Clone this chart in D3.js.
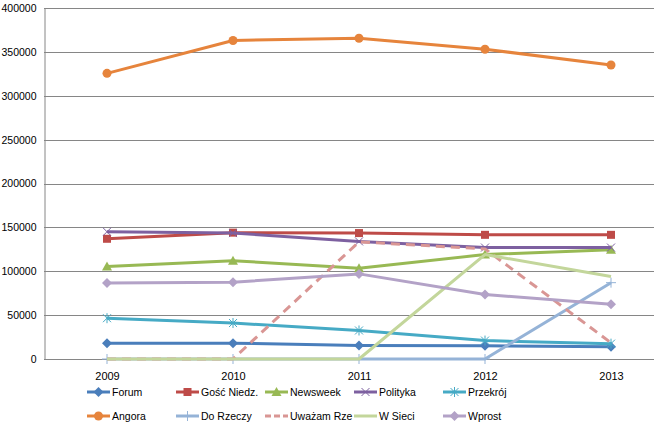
<!DOCTYPE html>
<html>
<head>
<meta charset="utf-8">
<script src="https://cdn.jsdelivr.net/npm/d3@7"></script>
<style>
  body { margin: 0; background: #fff; }
  svg { display: block; font-family: "Liberation Sans", Arial, sans-serif; }
</style>
</head>
<body>
<script>
  // chart data
  var years = ['2009', '2010', '2011', '2012', '2013'];
  var yTicks = [0, 50000, 100000, 150000, 200000, 250000, 300000, 350000, 400000];

  var forum     = [18000, 18000, 15500, 15000, 14000];
  var goscNiedz = [137000, 144000, 143500, 141500, 141500];
  var newsweek  = [105500, 112000, 103500, 119000, 124500];
  var polityka  = [145000, 143500, 134000, 127000, 127000];
  var przekroj  = [46500, 41000, 32500, 21000, 17500];
  var angora    = [325500, 363000, 365500, 353000, 335000];
  var doRzeczy  = [0, 0, 0, 0, 87000];
  var uwazamRze = [0, 0, 133500, 125500, 18500];
  var wSieci    = [0, 0, 0, 119000, 94000];
  var wprost    = [86500, 87500, 97000, 73500, 62500];

  var series = [
    { name: 'Forum', values: forum, color: '#4A7EBB', marker: 'diamond' },
    { name: 'Gość Niedz.', values: goscNiedz, color: '#BE4B48', marker: 'square' },
    { name: 'Newsweek', values: newsweek, color: '#98B954', marker: 'triangle' },
    { name: 'Polityka', values: polityka, color: '#7D60A0', marker: 'x' },
    { name: 'Przekrój', values: przekroj, color: '#46AAC5', marker: 'star' },
    { name: 'Angora', values: angora, color: '#E6843C', marker: 'circle' },
    { name: 'Do Rzeczy', values: doRzeczy, color: '#95B3D7', marker: 'plus' },
    { name: 'Uważam Rze', values: uwazamRze, color: '#D99694', marker: 'none', dash: '9,6' },
    { name: 'W Sieci', values: wSieci, color: '#C3D69B', marker: 'none' },
    { name: 'Wprost', values: wprost, color: '#B3A2C7', marker: 'diamond' }
  ];

(function() {
  var w = 654;
  var h = 425;
  var plotLeft = 44, plotTop = 8, plotBottom = 359;
  var step = 126;

  var svg = d3.select('body')
    .append('svg')
    .attr('width', w)
    .attr('height', h);

  var xScale = d3.scalePoint()
    .domain(years)
    .range([plotLeft + step / 2, plotLeft + step * 4.5]);

  var yScale = d3.scaleLinear()
    .domain([0, 400000])
    .range([plotBottom, plotTop]);

  // gridlines
  svg.selectAll('line.grid')
    .data(yTicks)
    .enter()
    .append('line')
    .attr('class', 'grid')
    .attr('x1', plotLeft)
    .attr('x2', plotLeft + step * 5)
    .attr('y1', function(d) { return Math.round(yScale(d)) + 0.5; })
    .attr('y2', function(d) { return Math.round(yScale(d)) + 0.5; })
    .attr('stroke', '#868686')
    .attr('stroke-width', 1);

  // y axis
  var yAxis = d3.axisLeft(yScale)
    .tickValues(yTicks)
    .tickSize(0)
    .tickPadding(8)
    .tickFormat(d3.format('d'));

  var gy = svg.append('g')
    .attr('transform', 'translate(' + (plotLeft + 0.5) + ',0)')
    .call(yAxis);
  gy.select('.domain').attr('stroke', '#868686');
  gy.selectAll('text')
    .attr('font-size', '10.5px')
    .attr('fill', '#000')
    .attr('font-family', '"Liberation Sans", Arial, sans-serif');

  // x axis
  var xAxis = d3.axisBottom(xScale).tickSize(0).tickPadding(13);
  var gx = svg.append('g')
    .attr('transform', 'translate(0,' + (Math.round(plotBottom) + 0.5) + ')')
    .call(xAxis);
  gx.select('.domain').attr('d', 'M' + plotLeft + ',0H' + (plotLeft + step * 5)).attr('stroke', '#868686');
  gx.selectAll('text')
    .attr('font-size', '11px')
    .attr('fill', '#000')
    .attr('font-family', '"Liberation Sans", Arial, sans-serif');

  function drawMarker(g, type, color, x, y) {
    var s = 4;
    if (type === 'diamond') {
      g.append('path')
        .attr('d', 'M' + x + ',' + (y - 5) + 'L' + (x + 5) + ',' + y + 'L' + x + ',' + (y + 5) + 'L' + (x - 5) + ',' + y + 'Z')
        .attr('fill', color);
    } else if (type === 'square') {
      g.append('rect')
        .attr('x', x - s).attr('y', y - s)
        .attr('width', s * 2).attr('height', s * 2)
        .attr('fill', color);
    } else if (type === 'triangle') {
      g.append('path')
        .attr('d', 'M' + x + ',' + (y - 5) + 'L' + (x + 5) + ',' + (y + 4) + 'L' + (x - 5) + ',' + (y + 4) + 'Z')
        .attr('fill', color);
    } else if (type === 'circle') {
      g.append('circle')
        .attr('cx', x).attr('cy', y).attr('r', 4.5)
        .attr('fill', color);
    } else if (type === 'x' || type === 'star') {
      var p = 'M' + (x - s) + ',' + (y - s) + 'L' + (x + s) + ',' + (y + s) +
              'M' + (x + s) + ',' + (y - s) + 'L' + (x - s) + ',' + (y + s);
      if (type === 'star') p += 'M' + x + ',' + (y - 5) + 'L' + x + ',' + (y + 5);
      g.append('path').attr('d', p).attr('stroke', color).attr('stroke-width', 1).attr('fill', 'none');
    } else if (type === 'plus') {
      g.append('path')
        .attr('d', 'M' + (x - 5) + ',' + y + 'L' + (x + 5) + ',' + y + 'M' + x + ',' + (y - 5) + 'L' + x + ',' + (y + 5))
        .attr('stroke', color).attr('stroke-width', 1).attr('fill', 'none');
    }
  }

  var line = d3.line()
    .x(function(d, i) { return xScale(years[i]); })
    .y(function(d) { return yScale(d); });

  series.forEach(function(s) {
    var g = svg.append('g');
    g.append('path')
      .attr('d', line(s.values))
      .attr('fill', 'none')
      .attr('stroke', s.color)
      .attr('stroke-width', 3)
      .attr('stroke-linejoin', 'round')
      .attr('stroke-dasharray', s.dash || null);
    s.values.forEach(function(v, i) {
      drawMarker(g, s.marker, s.color, xScale(years[i]), yScale(v));
    });
  });

  // legend, two rows of five
  var legend = svg.append('g');
  series.forEach(function(s, i) {
    var col = i % 5, row = Math.floor(i / 5);
    var tx = 112 + col * 89;
    var ty = 392 + row * 24;
    var g = legend.append('g');
    g.append('line')
      .attr('x1', tx - 25).attr('x2', tx - 2)
      .attr('y1', ty).attr('y2', ty)
      .attr('stroke', s.color)
      .attr('stroke-width', 3)
      .attr('stroke-dasharray', s.dash ? '6,3' : null);
    drawMarker(g, s.marker, s.color, tx - 13.5, ty);
    g.append('text')
      .attr('x', tx)
      .attr('y', ty + 4)
      .attr('font-size', '10.5px')
      .attr('fill', '#000')
      .text(s.name);
  });
})();
</script>
</body>
</html>
